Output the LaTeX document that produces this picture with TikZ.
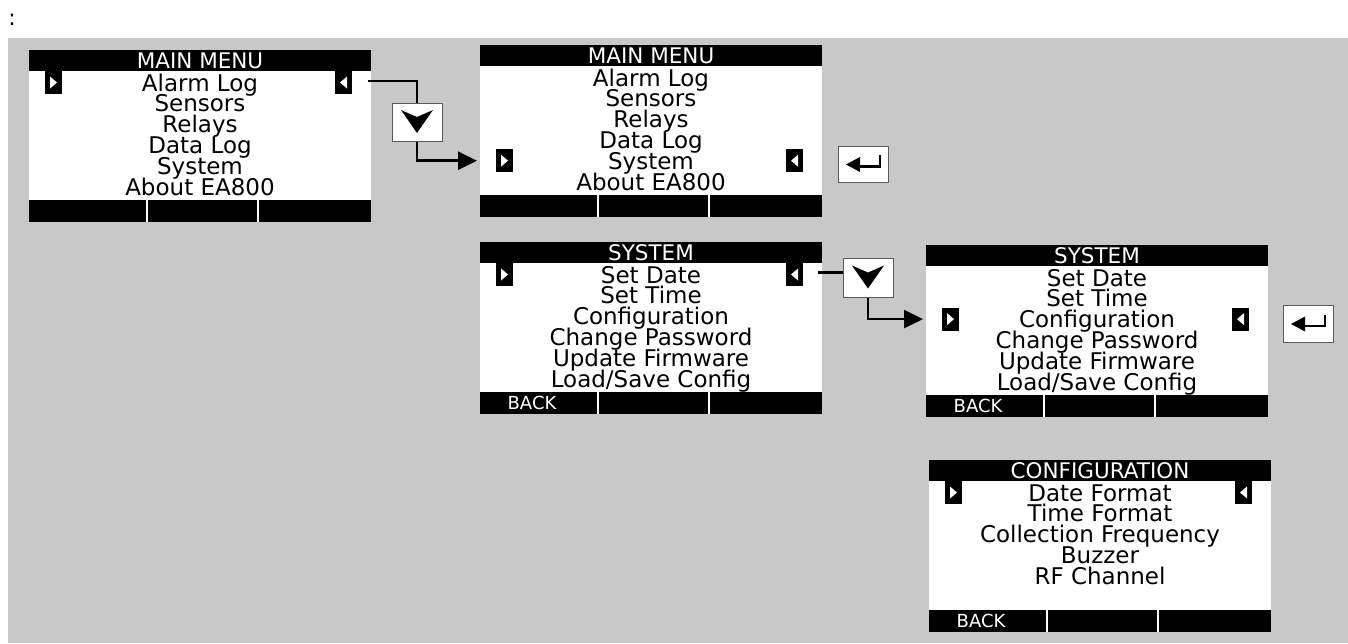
\documentclass[tikz,border=0pt]{standalone}
\usepackage{fontspec}
\setmainfont{DejaVu Sans}
\usetikzlibrary{arrows.meta,calc}
\definecolor{bggray}{RGB}{200,200,200}
\definecolor{btnborder}{RGB}{90,90,90}
\tikzset{
  screenbox/.style={fill=white,minimum width=342pt,minimum height=172pt,inner sep=0pt,outer sep=0pt},
  rowtext/.style={font=\fontsize{23}{23}\selectfont,inner sep=0pt,anchor=base},
  titletext/.style={font=\fontsize{21.5}{21.5}\selectfont,text=white,inner sep=0pt,anchor=base},
  backtext/.style={font=\fontsize{18}{18}\selectfont,text=white,inner sep=0pt,anchor=base},
  marker/.style={fill=black,minimum width=17pt,minimum height=23pt,inner sep=0pt},
  btn/.style={draw=btnborder,line width=1pt,fill=white,inner sep=0pt},
  conn/.style={line width=2.5pt,black},
  arr/.style={-{Triangle[length=19pt,width=18pt]},shorten >=3pt}
}
\newcommand\lcdscreen[5]{% name, x, y, title, back?
  \node[screenbox] (#1) at (#2+171,#3+86) {};
  \fill[black] (#2,#3) rectangle ++(342,21);
  \fill[black] (#2,#3+150) rectangle ++(342,22);
  \fill[white] (#2+117,#3+150) rectangle ++(2,22);
  \fill[white] (#2+228,#3+150) rectangle ++(2,22);
  \node[titletext] (#1title) at (#2+171,#3+18) {#4};
  \ifx&#5&\else\node[backtext] (#1back) at (#2+52,#3+167) {#5};\fi
}
\newcommand\lcdrows[4]{% name, x, y, list
  \foreach \t [count=\i from 0] in {#4} {
    \node[rowtext] (#1row\i) at (#2+171,#3+41+20.8*\i) {\t};
  }
}
\newcommand\lcdmarkers[4]{% name, x, y, row index
  \node[marker] (#1ml) at (#2+24.5,#3+32.5+20.8*#4) {};
  \node[marker] (#1mr) at (#2+314.5,#3+32.5+20.8*#4) {};
  \fill[white] ($(#1ml)+(-3.5,-6)$) -- ++(7,6) -- ++(-7,6) -- cycle;
  \fill[white] ($(#1mr)+(3.5,-6)$) -- ++(-7,6) -- ++(7,6) -- cycle;
}
\newcommand\downbtn[5]{% name, cx, cy, w, h
  \node[btn,minimum width=#4pt,minimum height=#5pt] (#1) at (#2,#3) {};
  \fill[black] ($(#1)+(-16,-12)$) -- ($(#1)+(0,-5)$) -- ($(#1)+(16,-12)$) -- ($(#1)+(0,11)$) -- cycle;
}
\newcommand\enterbtn[5]{% name, cx, cy, w, h
  \node[btn,minimum width=#4pt,minimum height=#5pt] (#1) at (#2,#3) {};
  \fill[black] ($(#1)+(-17,0.5)$) -- ($(#1)+(-3,-7)$) -- ($(#1)+(-3,8)$) -- cycle;
  \draw[line width=2.5pt] ($(#1)+(-4,2.5)$) -- ($(#1)+(17,2.5)$) -- ($(#1)+(17,-9)$);
}
\begin{document}
\begin{tikzpicture}[x=1pt,y=-1pt]
  \useasboundingbox (0,0) rectangle (1348,643);
  \fill[white] (0,0) rectangle (1348,643);
  \fill[bggray] (8,38) rectangle (1348,643);
  \node[font=\fontsize{22}{22}\selectfont,inner sep=0pt,anchor=base] (colon) at (12,25) {:};

  % Screen 1
  \lcdscreen{s1}{29}{50}{MAIN MENU}{}
  \lcdrows{s1}{29}{50}{Alarm Log,Sensors,Relays,Data Log,System,About EA800}
  \lcdmarkers{s1}{29}{50}{0}

  % Screen 2
  \lcdscreen{s2}{480}{45}{MAIN MENU}{}
  \lcdrows{s2}{480}{45}{Alarm Log,Sensors,Relays,Data Log,System,About EA800}
  \lcdmarkers{s2}{480}{45}{4}

  % Screen 3
  \lcdscreen{s3}{480}{242}{SYSTEM}{BACK}
  \lcdrows{s3}{480}{242}{Set Date,Set Time,Configuration,Change Password,Update Firmware,Load/Save Config}
  \lcdmarkers{s3}{480}{242}{0}

  % Screen 4
  \lcdscreen{s4}{926}{245}{SYSTEM}{BACK}
  \lcdrows{s4}{926}{245}{Set Date,Set Time,Configuration,Change Password,Update Firmware,Load/Save Config}
  \lcdmarkers{s4}{926}{245}{2}

  % Screen 5
  \lcdscreen{s5}{929}{460}{CONFIGURATION}{BACK}
  \lcdrows{s5}{929}{460}{Date Format,Time Format,Collection Frequency,Buzzer,RF Channel}
  \lcdmarkers{s5}{929}{460}{0}

  % Buttons
  \downbtn{d1}{417}{122}{50}{38}
  \downbtn{d2}{868}{277.5}{50}{39}
  \enterbtn{e1}{863}{164}{50}{36}
  \enterbtn{e2}{1308}{323.5}{50}{37}

  % Connectors
  \draw[conn] ($(s1.east |- s1mr)+(-3,-1.5)$) -| (d1.north);
  \draw[conn,arr] (d1.south) |- (s2.west |- s2ml);
  \draw[conn] ($(s3.east |- s3mr)+(-4,-2)$) -- ($(d2.west |- s3mr)+(0,-2)$);
  \draw[conn,arr] (d2.south) |- (s4.west |- s4ml);
\end{tikzpicture}
\end{document}
